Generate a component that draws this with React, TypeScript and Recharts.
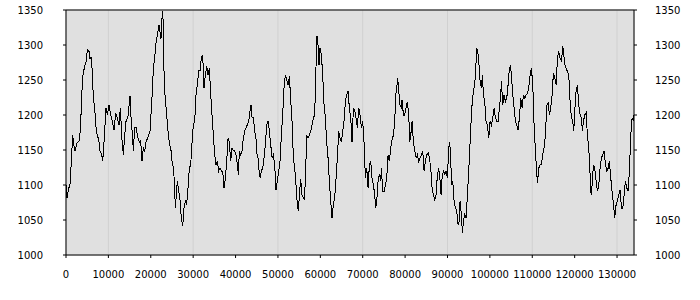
import { LineChart, Line, XAxis, YAxis, CartesianGrid, ReferenceLine } from "recharts";

// sample positions along the x axis
const sampleX = [
  0, 240, 630, 940, 1260, 1570, 1890, 2120, 2670, 3150, 3460, 3700, 4010, 4400, 4720, 5030, 5430, 5660, 5900, 6210,
  6450, 6760, 7160, 7390, 7710, 8020, 8340, 8650, 8890, 9120, 9440, 9750, 10150, 10540, 10930, 11330, 11720, 12110, 12510, 12820,
  13210, 13530, 13840, 14160, 14630, 15100, 15420, 15650, 15890, 16200, 16520, 16830, 17300, 17620, 17930, 18250, 18560, 18880, 19350, 19820,
  20140, 20370, 20610, 20920, 21160, 21550, 21950, 22400, 22650, 22810, 22970, 23120, 23360, 23750, 24070, 24380, 24780, 25010, 25330, 25560,
  25800, 26030, 26270, 26580, 26900, 27210, 27530, 27840, 28160, 28470, 28790, 29100, 29420, 29730, 30050, 30360, 30670, 30990, 31300, 31620,
  31930, 32250, 32560, 32880, 33190, 33510, 33820, 34140, 34450, 34760, 35080, 35390, 35710, 36020, 36340, 36650, 36970, 37280, 37600, 37910,
  38230, 38540, 38850, 39170, 39480, 39800, 40110, 40430, 40660, 40900, 41210, 41530, 41840, 42160, 42470, 42790, 43100, 43420, 43650, 43890,
  44200, 44520, 44830, 45070, 45300, 45620, 45850, 46090, 46400, 46720, 47030, 47350, 47660, 47980, 48290, 48610, 48920, 49230, 49550, 49860,
  50180, 50490, 50810, 51120, 51440, 51750, 52070, 52380, 52700, 53010, 53320, 53640, 53950, 54270, 54580, 54820, 55060, 55370, 55680, 56000,
  56230, 56470, 56790, 57100, 57410, 57730, 58040, 58360, 58670, 58990, 59220, 59460, 59700, 59930, 60250, 60560, 60880, 61190, 61500, 61820,
  62130, 62450, 62760, 63080, 63390, 63710, 64020, 64340, 64650, 64960, 65280, 65590, 65910, 66220, 66540, 66850, 67170, 67480, 67800, 68110,
  68430, 68740, 69060, 69370, 69690, 70000, 70320, 70630, 70950, 71260, 71580, 71890, 72200, 72520, 72830, 73070, 73310, 73620, 73940, 74250,
  74410, 74720, 75040, 75350, 75670, 75980, 76290, 76610, 76920, 77240, 77550, 77790, 78020, 78260, 78500, 78810, 79130, 79280, 79600, 79910,
  80230, 80540, 80860, 81090, 81330, 81640, 81960, 82270, 82590, 82900, 83220, 83530, 83840, 84160, 84470, 84790, 85100, 85420, 85730, 86050,
  86360, 86680, 86990, 87310, 87620, 87930, 88250, 88490, 88720, 89040, 89350, 89670, 89980, 90290, 90530, 90770, 90920, 91240, 91550, 91870,
  92180, 92500, 92730, 92970, 93280, 93520, 93760, 94070, 94380, 94700, 95010, 95330, 95640, 95880, 96120, 96430, 96670, 96900, 97140, 97370,
  97690, 98000, 98240, 98470, 98790, 99100, 99420, 99730, 100050, 100360, 100680, 100990, 101310, 101620, 101940, 102250, 102560, 102720, 103040, 103350,
  103670, 103980, 104290, 104610, 104850, 105080, 105400, 105710, 106030, 106340, 106650, 106970, 107280, 107600, 107910, 108230, 108540, 108860, 109170, 109490,
  109800, 110120, 110430, 110740, 110980, 111220, 111530, 111850, 112160, 112470, 112790, 113100, 113420, 113730, 114050, 114360, 114680, 114990, 115310, 115620,
  115940, 116250, 116560, 116880, 117190, 117350, 117670, 117980, 118290, 118610, 118920, 119240, 119550, 119790, 120030, 120340, 120650, 120970, 121280, 121600,
  121830, 122070, 122380, 122700, 123010, 123330, 123640, 123880, 124110, 124430, 124740, 125060, 125370, 125690, 126000, 126320, 126630, 126950, 127260, 127580,
  127890, 128200, 128520, 128830, 129150, 129460, 129780, 130090, 130410, 130720, 131040, 131350, 131670, 131980, 132290, 132610, 132920, 133240, 133550, 133870,
  134000,
];

// values at those positions
const sampleY = [
  1100, 1082, 1095, 1100, 1134, 1171, 1155, 1149, 1161, 1163, 1186, 1229, 1257, 1270, 1276, 1293, 1291, 1280, 1283, 1262,
  1224, 1210, 1177, 1171, 1165, 1149, 1145, 1134, 1153, 1177, 1210, 1200, 1214, 1200, 1191, 1179, 1203, 1196, 1186, 1210,
  1165, 1143, 1171, 1191, 1198, 1227, 1186, 1175, 1149, 1182, 1183, 1171, 1161, 1163, 1134, 1153, 1149, 1161, 1169, 1177,
  1210, 1234, 1267, 1281, 1300, 1314, 1329, 1308, 1339, 1349, 1324, 1263, 1229, 1200, 1177, 1161, 1149, 1134, 1124, 1106,
  1067, 1086, 1106, 1091, 1079, 1053, 1041, 1067, 1077, 1073, 1096, 1124, 1129, 1161, 1186, 1191, 1229, 1243, 1263, 1263,
  1281, 1286, 1239, 1257, 1270, 1257, 1267, 1229, 1200, 1171, 1143, 1129, 1134, 1120, 1124, 1120, 1120, 1096, 1110, 1134,
  1167, 1161, 1134, 1153, 1149, 1149, 1143, 1129, 1115, 1149, 1143, 1149, 1167, 1177, 1182, 1186, 1191, 1206, 1214, 1196,
  1196, 1177, 1165, 1143, 1139, 1115, 1110, 1120, 1124, 1139, 1158, 1186, 1191, 1177, 1158, 1139, 1143, 1129, 1093, 1106,
  1120, 1134, 1171, 1200, 1239, 1257, 1250, 1243, 1255, 1222, 1191, 1139, 1124, 1100, 1072, 1063, 1086, 1108, 1086, 1082,
  1079, 1106, 1171, 1167, 1171, 1177, 1186, 1196, 1200, 1271, 1313, 1300, 1271, 1296, 1286, 1257, 1214, 1196, 1161, 1139,
  1106, 1077, 1053, 1072, 1082, 1110, 1139, 1177, 1167, 1161, 1177, 1191, 1219, 1229, 1234, 1210, 1196, 1161, 1210, 1206,
  1196, 1182, 1210, 1200, 1182, 1191, 1161, 1110, 1124, 1096, 1129, 1134, 1110, 1100, 1086, 1067, 1077, 1106, 1115, 1106,
  1124, 1091, 1091, 1100, 1110, 1143, 1134, 1153, 1165, 1171, 1191, 1229, 1239, 1253, 1234, 1214, 1210, 1222, 1200, 1200,
  1210, 1219, 1200, 1161, 1171, 1191, 1161, 1149, 1139, 1143, 1134, 1139, 1143, 1149, 1120, 1134, 1143, 1146, 1139, 1124,
  1096, 1086, 1079, 1086, 1115, 1124, 1106, 1086, 1110, 1120, 1115, 1120, 1110, 1153, 1161, 1139, 1100, 1106, 1077, 1067,
  1063, 1043, 1048, 1077, 1058, 1031, 1048, 1058, 1053, 1086, 1120, 1161, 1200, 1222, 1234, 1243, 1267, 1296, 1291, 1277,
  1248, 1239, 1257, 1229, 1219, 1191, 1186, 1167, 1191, 1186, 1196, 1210, 1196, 1191, 1191, 1210, 1229, 1248, 1214, 1229,
  1219, 1224, 1243, 1267, 1270, 1257, 1229, 1210, 1191, 1186, 1179, 1196, 1224, 1210, 1229, 1224, 1229, 1231, 1239, 1257,
  1267, 1243, 1186, 1149, 1124, 1103, 1124, 1129, 1129, 1143, 1153, 1171, 1214, 1217, 1200, 1210, 1229, 1260, 1253, 1243,
  1281, 1291, 1281, 1277, 1298, 1291, 1272, 1267, 1262, 1257, 1219, 1196, 1191, 1177, 1206, 1234, 1243, 1214, 1200, 1196,
  1177, 1191, 1200, 1203, 1171, 1153, 1115, 1086, 1100, 1129, 1124, 1106, 1091, 1100, 1124, 1139, 1143, 1149, 1129, 1120,
  1124, 1134, 1110, 1091, 1072, 1053, 1072, 1077, 1086, 1093, 1067, 1067, 1086, 1106, 1096, 1091, 1120, 1171, 1196, 1191,
  1200,
];

const xTicks = [0, 10000, 20000, 30000, 40000, 50000, 60000, 70000, 80000, 90000, 100000, 110000, 120000, 130000];
const yTicks = [1000, 1050, 1100, 1150, 1200, 1250, 1300, 1350];

const data = sampleX.map((x, i) => ({ x, v: sampleY[i] }));

const tickStyle = { fontSize: 10, fill: "#000", fontFamily: "DejaVu Sans" };

export default function App() {
  return (
    <div style={{ position: "absolute", left: 0, top: 0, width: 700, height: 300, background: "#fff" }}>
      <LineChart width={700} height={300} data={data} margin={{ top: 10, right: 6, bottom: 15, left: 6 }}>
        <CartesianGrid fill="#e0e0e0" stroke="#d0d0d0" strokeWidth={1} />
        <XAxis
          dataKey="x"
          type="number"
          domain={[0, 134000]}
          ticks={xTicks}
          allowDataOverflow
          height={30}
          tickSize={3}
          tickMargin={13}
          stroke="#000"
          tick={tickStyle}
        />
        <YAxis
          yAxisId="left"
          domain={[1000, 1350]}
          ticks={yTicks}
          allowDataOverflow
          width={60}
          tickSize={3}
          tickMargin={20}
          stroke="#000"
          tick={tickStyle}
        />
        <YAxis
          yAxisId="right"
          orientation="right"
          domain={[1000, 1350]}
          ticks={yTicks}
          allowDataOverflow
          width={60}
          tickSize={3}
          tickMargin={18}
          stroke="#000"
          tick={{ ...tickStyle, textAnchor: "start" }}
        />
        <ReferenceLine yAxisId="left" y={1350} stroke="#000" />
        <Line
          yAxisId="left"
          dataKey="v"
          type="linear"
          stroke="#000"
          strokeWidth={1}
          dot={false}
          shapeRendering="crispEdges"
          isAnimationActive={false}
        />
      </LineChart>
    </div>
  );
}
